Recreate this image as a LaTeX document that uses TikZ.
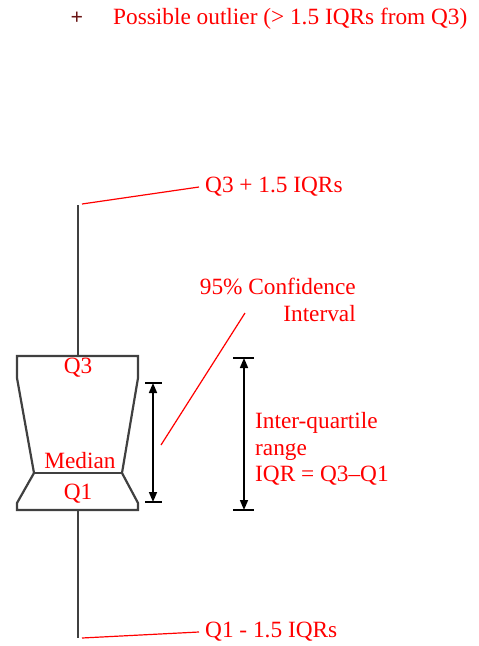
\documentclass[tikz,border=0pt]{standalone}
\usepackage{fontspec}
\setmainfont{Liberation Serif}
\usetikzlibrary{arrows.meta}
\definecolor{boxgray}{HTML}{404040}
\definecolor{lblred}{HTML}{FF0000}
\definecolor{plusred}{HTML}{6A1515}
\begin{document}
\begin{tikzpicture}[x=1pt,y=-1pt,
  lbl/.style={text=lblred,font=\fontsize{23.3}{26.5}\selectfont,inner sep=0pt},
  boxline/.style={draw=boxgray,line width=2.2pt,line join=miter},
  leader/.style={draw=lblred,line width=1.2pt},
  dimarrow/.style={draw=black,line width=1.5pt,{Triangle[length=10pt,width=8pt]}-{Triangle[length=10pt,width=8pt]}},
  tick/.style={draw=black,line width=1.5pt}]
\useasboundingbox (0,0) rectangle (479,646);
% legend
\node[text=plusred,font=\fontsize{22}{24}\selectfont\bfseries,inner sep=0pt] (plus) at (77,18) {+};
\node[lbl,anchor=west] (outl) at (113,19) {Possible outlier (> 1.5 IQRs from Q3)};
% whiskers
\coordinate (wtop) at (78,205);
\coordinate (q3c) at (78,356);
\coordinate (q1c) at (78,510);
\coordinate (wbot) at (78,638);
\draw[boxline] (wtop) -- (q3c);
\draw[boxline] (q1c) -- (wbot);
% notched box
\draw[boxline] (17,356) -- (138,356) -- (138,378) -- (122,473) -- (138,503) -- (138,510)
  -- (17,510) -- (17,503) -- (34,473) -- (17,378) -- cycle;
\draw[boxline] (34,473) -- (122,473);
\node[lbl] (q3) at (78,368) {Q3};
\node[lbl] (med) at (80,461) {Median};
\node[lbl] (q1) at (78,494) {Q1};
% whisker labels
\node[lbl,anchor=west,inner xsep=6pt] (upper) at (199,187) {Q3 + 1.5 IQRs};
\node[lbl,anchor=west,inner xsep=6pt] (lower) at (199,632) {Q1 - 1.5 IQRs};
\coordinate (ut) at (82,204);
\coordinate (lt) at (82,638);
\draw[leader] (ut) -- (upper.west);
\draw[leader] (lt) -- (lower.west);
% CI arrow
\coordinate (cit) at (153,383);
\coordinate (cib) at (153,502);
\draw[tick] (145,383) -- (162,383);
\draw[tick] (145,502) -- (162,502);
\draw[dimarrow] (cit) -- (cib);
\node[lbl,align=right,anchor=north east] (ci) at (356,278) {95\% Confidence\\Interval};
\coordinate (cil1) at (161,445);
\coordinate (cil2) at (245,313);
\draw[leader] (cil1) -- (cil2);
% IQR arrow
\coordinate (iqt) at (244,358);
\coordinate (iqb) at (244,510);
\draw[tick] (233,358) -- (254,358);
\draw[tick] (233,510) -- (254,510);
\draw[dimarrow] (iqt) -- (iqb);
\node[lbl,align=left,anchor=west] (iqr) at (255,449) {Inter-quartile\\range\\IQR = Q3–Q1};
\end{tikzpicture}
\end{document}
